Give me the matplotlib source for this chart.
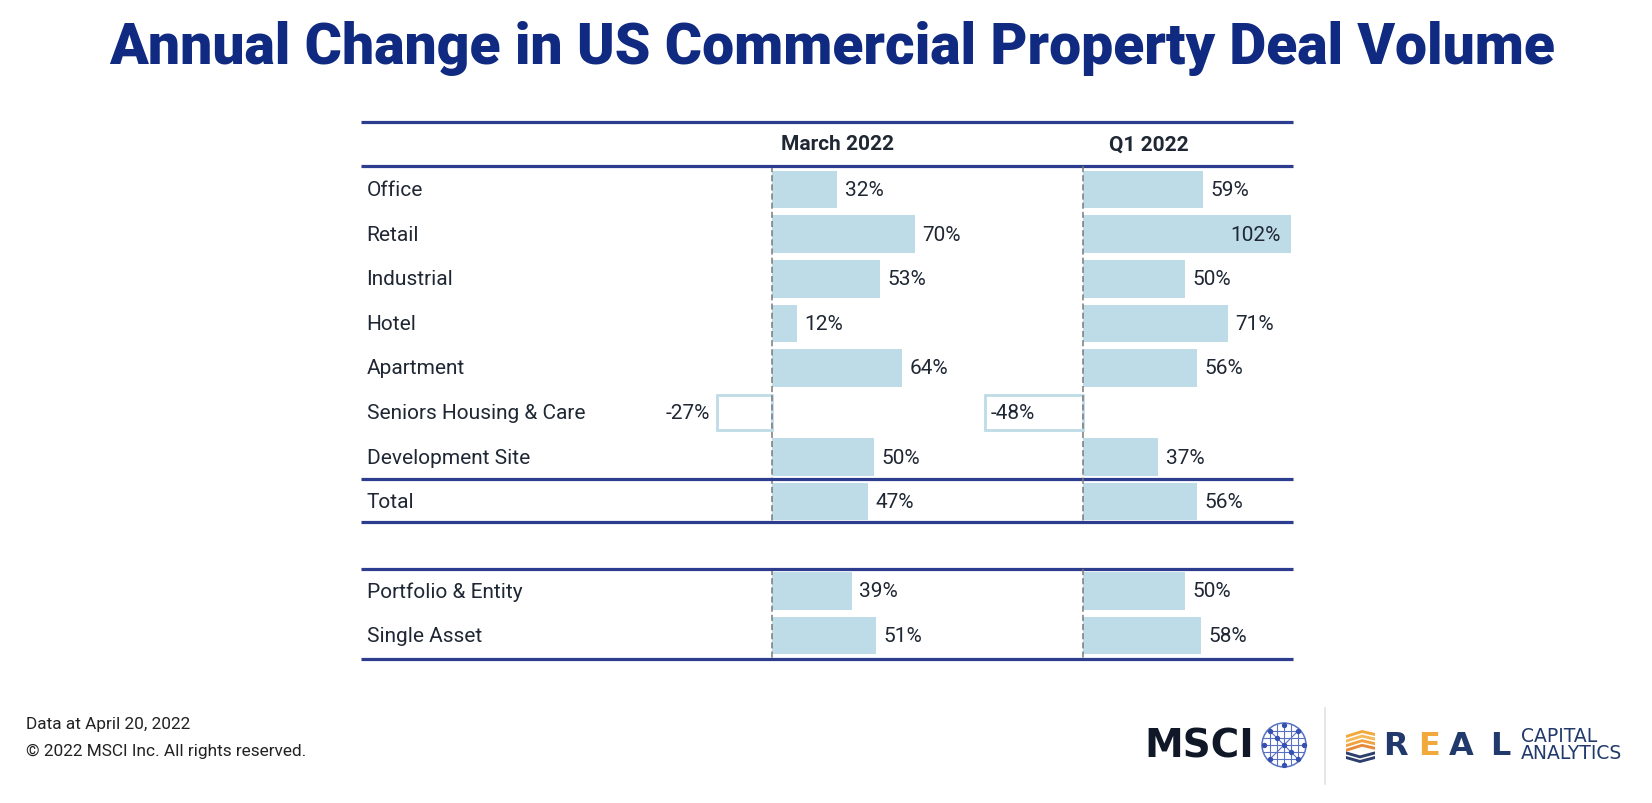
import matplotlib
matplotlib.use("Agg")
import matplotlib.pyplot as plt
import matplotlib.transforms as mtransforms
from matplotlib.patches import Circle, Polygon

# ---------------- data ----------------
categories = ["Office", "Retail", "Industrial", "Hotel", "Apartment",
              "Seniors Housing & Care", "Development Site", "Total",
              "Portfolio & Entity", "Single Asset"]
march_2022 = [32, 70, 53, 12, 64, -27, 50, 47, 39, 51]
q1_2022 = [59, 102, 50, 71, 56, -48, 37, 56, 50, 58]
column_titles = ["March 2022", "Q1 2022"]
title = "Annual Change in US Commercial Property Deal Volume"
footnotes = ["Data at April 20, 2022", "\u00a9 2022 MSCI Inc. All rights reserved."]

# ---------------- style ----------------
FONT = "Roboto"
plt.rcParams["font.family"] = [FONT, "DejaVu Sans"]
NAVY = "#0f2a80"
LINE = "#2c3c8e"
BAR = "#bedce7"
TXT = "#1e2733"
FS = 15

W, H = 1652, 804
fig = plt.figure(figsize=(W / 100, H / 100), dpi=100)

# pixel-space overlay for decoration (logos, footer)
deco = fig.add_axes([0, 0, 1, 1])
deco.set_xlim(0, W)
deco.set_ylim(H, 0)
deco.axis("off")

# table geometry (pixels)
tbl_left, tbl_right = 361.4, 1292.8
tbl_top, tbl_bottom = 123.3, 659.6
px_per_pct = 2.034
zero_px = [772.3, 1083.1]

# row positions: main group rows, then Total, a gap, then deal-type rows
ypos = []
y = 0.0
for i, c in enumerate(categories):
    ypos.append(y)
    y += 1.0
    if c == "Total":
        y += 1.0
y_top, y_header_line, y_bottom = -1.51, -0.54, 10.52

rect = [tbl_left / W, 1 - tbl_bottom / H, (tbl_right - tbl_left) / W,
        (tbl_bottom - tbl_top) / H]
axes = []
for k in range(2):
    ax = fig.add_axes(rect)
    ax.patch.set_alpha(0)
    xmin = -(zero_px[k] - tbl_left) / px_per_pct
    xmax = xmin + (tbl_right - tbl_left) / px_per_pct
    ax.set_xlim(xmin, xmax)
    ax.set_ylim(y_bottom, y_top)
    ax.axis("off")
    axes.append(ax)

ax1, ax2 = axes
total_idx = categories.index("Total")
lines_y = [y_top, y_header_line,
           (ypos[total_idx - 1] + ypos[total_idx]) / 2,
           ypos[total_idx] + 0.45, ypos[total_idx + 1] - 0.49, y_bottom]
for ly in lines_y:
    ax1.axhline(ly, color=LINE, lw=2.3, zorder=5, solid_capstyle="butt",
                clip_on=False)

# header labels
ax1.text(32, (y_top + y_header_line) / 2, column_titles[0], ha="center",
         va="center", fontsize=FS, fontweight="bold", color=TXT)
ax2.text(32.5, (y_top + y_header_line) / 2, column_titles[1], ha="center",
         va="center", fontsize=FS, fontweight="bold", color=TXT)

# row labels
blend = mtransforms.blended_transform_factory(ax1.transAxes, ax1.transData)
for c, yy in zip(categories, ypos):
    ax1.text(0.0055, yy, c, transform=blend, ha="left", va="center",
             fontsize=FS, color=TXT)

# bars + value labels
for k, (ax, vals) in enumerate(zip(axes, [march_2022, q1_2022])):
    # dashed zero lines (two segments)
    ax.vlines(0, y_header_line, lines_y[3], colors="#7a7a7a", lw=1.1,
              linestyles=(0, (4, 2)), zorder=4)
    ax.vlines(0, lines_y[4], y_bottom, colors="#7a7a7a", lw=1.1,
              linestyles=(0, (4, 2)), zorder=4)
    xmax = ax.get_xlim()[1]
    for v, yy in zip(vals, ypos):
        if v >= 0:
            ax.barh(yy, v, height=0.84, color=BAR, zorder=2)
        else:
            ax.barh(yy, v, height=0.78, facecolor="white", edgecolor=BAR,
                    lw=2, zorder=2)
        label = f"{v}%"
        kw = dict(textcoords="offset points", va="center", fontsize=FS,
                  color=TXT, zorder=6)
        if v >= 0 and v > xmax - 20:
            ax.annotate(label, (v, yy), xytext=(-7, 0), ha="right", **kw)
        elif v >= 0:
            ax.annotate(label, (v, yy), xytext=(5.5, 0), ha="left", **kw)
        elif k == 1:
            ax.annotate(label, (v, yy), xytext=(3.5, 0), ha="left", **kw)
        else:
            ax.annotate(label, (v, yy), xytext=(-5, 0), ha="right", **kw)

# title
fig.text(832 / W, 1 - 64 / H, title, ha="center", va="baseline", fontsize=41,
         fontweight="black", color=NAVY)

# footer
fig.text(26 / W, 1 - 725 / H, footnotes[0], ha="left", va="center",
         fontsize=12.4, color="#222222")
fig.text(26 / W, 1 - 751 / H, footnotes[1], ha="left", va="center",
         fontsize=12.4, color="#222222")

# ---- logos (decoration) ----
deco.text(1144, 747, "MSCI", ha="left", va="center", fontsize=28,
          fontweight="bold", color="#101828", family="DejaVu Sans")
gc = (1284, 746)
gr = 22
gcol = "#5a72c4"
globe = Circle(gc, gr, facecolor="none", edgecolor=gcol, lw=1.1)
deco.add_patch(globe)
for d in (-14, -7, 0, 7, 14):
    l1, = deco.plot([gc[0] + d, gc[0] + d], [gc[1] - gr, gc[1] + gr],
                    color=gcol, lw=0.8)
    l2, = deco.plot([gc[0] - gr, gc[0] + gr], [gc[1] + d, gc[1] + d],
                    color=gcol, lw=0.8)
    l1.set_clip_path(globe)
    l2.set_clip_path(globe)
for s in (-1, 1):
    l3, = deco.plot([gc[0] - gr, gc[0] + gr], [gc[1] - s * gr, gc[1] + s * gr],
                    color=gcol, lw=0.8)
    l3.set_clip_path(globe)
dots = [(0, 0), (-14, -14), (14, -14), (-14, 14), (14, 14), (0, -20), (0, 20),
        (-20, 0), (20, 0), (-7, -7), (7, 7)]
deco.scatter([gc[0] + a for a, b in dots], [gc[1] + b for a, b in dots],
             s=8, color="#3550b0", zorder=3)

deco.plot([1325, 1325], [709, 785], color="#e2e2e2", lw=1.2)

# REAL icon: stacked stripes
stripe_cols = ["#f2a93b", "#f5b95a", "#f0a240", "#e58a3a", "#2e3f6e", "#2e3f6e"]
for i, col in enumerate(stripe_cols):
    y0 = 733 + i * 4.6
    pts = [(1346, y0 + 3), (1362, y0 - 2), (1375, y0 + 1), (1375, y0 + 4),
           (1362, y0 + 1), (1346, y0 + 6)]
    if i >= 4:
        pts = [(1346, y0 + 1), (1360, y0 + 5), (1375, y0 + 1), (1375, y0 + 4),
               (1360, y0 + 8), (1346, y0 + 4)]
    deco.add_patch(Polygon(pts, closed=True, facecolor=col, edgecolor="none"))

for ch, x, col in [("R", 1383, "#213a6b"), ("E", 1418, "#f2a93b"),
                   ("A", 1449, "#213a6b"), ("L", 1490, "#213a6b")]:
    deco.text(x, 747, ch, ha="left", va="center", fontsize=23,
              fontweight="bold", color=col, family="DejaVu Sans")
deco.text(1521, 737, "CAPITAL", ha="left", va="center", fontsize=13.5,
          color="#213a6b", family="DejaVu Sans")
deco.text(1521, 754, "ANALYTICS", ha="left", va="center", fontsize=13.5,
          color="#213a6b", family="DejaVu Sans")

fig.savefig("out.png", dpi=100)
